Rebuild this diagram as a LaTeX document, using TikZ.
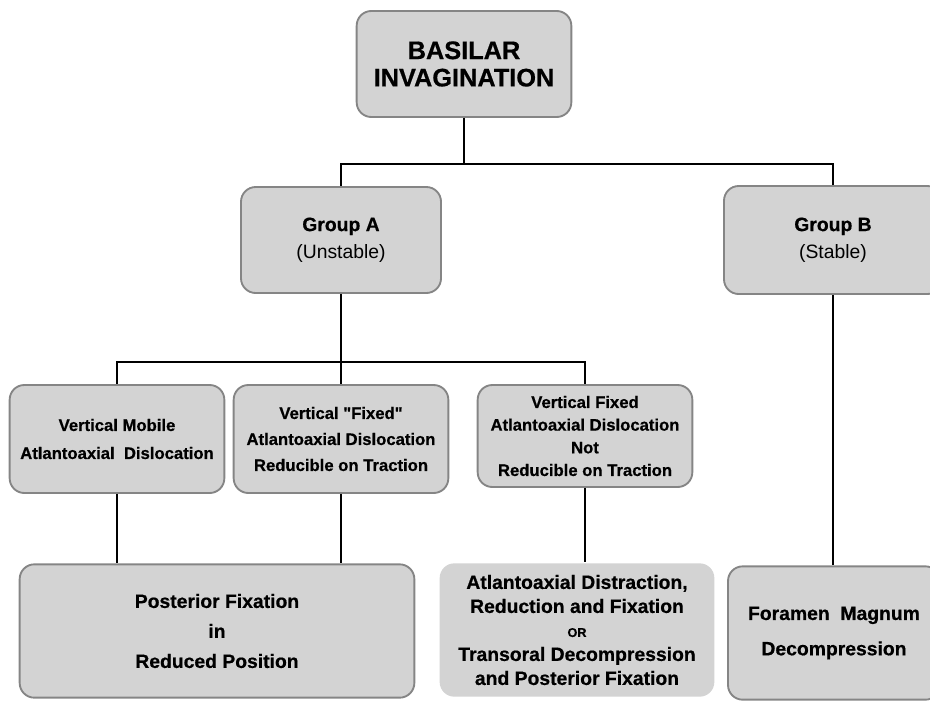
\documentclass[tikz,border=0pt]{standalone}
\usepackage{fontspec}
\setmainfont{Liberation Sans}[BoldFeatures={FakeBold=0.6}]
\usepackage{tikz}
\usetikzlibrary{calc}
\definecolor{boxfill}{HTML}{D3D3D3}
\definecolor{boxedge}{HTML}{858585}

\begin{document}
\begin{tikzpicture}[
    x=0.75pt, y=-0.75pt,
    stage/.style={draw=boxedge, line width=1.4pt, rounded corners=11pt, fill=boxfill, align=center, inner sep=2pt, font=\bfseries},
    plain/.style={stage, draw=none},
    link/.style={draw=black, line width=2.2pt},
]
\useasboundingbox (0,0) rectangle (930,700);

% Levels
\node[stage, minimum width=161pt, minimum height=79.5pt, font=\bfseries\fontsize{19}{20.5}\selectfont] (top) at (464,64) {BASILAR\\INVAGINATION};

\node[stage, minimum width=150pt, minimum height=79.5pt, font=\bfseries\fontsize{14.5}{20.5}\selectfont] (groupA) at (341,240) {Group A\\{\mdseries (Unstable)}};
\node[stage, minimum width=163.5pt, minimum height=81pt, font=\bfseries\fontsize{14.5}{20.5}\selectfont] (groupB) at (833,240) {Group B\\{\mdseries (Stable)}};

\node[stage, minimum width=161pt, minimum height=81pt, font=\bfseries\fontsize{12.5}{21}\selectfont] (mobile) at (117,439) {Vertical Mobile\\Atlantoaxial\ \ Dislocation};
\node[stage, minimum width=161pt, minimum height=81pt, font=\bfseries\fontsize{12.5}{19.5}\selectfont] (reducible) at (341,439) {Vertical \textquotedbl Fixed\textquotedbl\\Atlantoaxial Dislocation\\Reducible on Traction};
\node[stage, minimum width=161pt, minimum height=76.5pt, font=\bfseries\fontsize{12.5}{17}\selectfont] (fixed) at (585,436) {Vertical Fixed\\Atlantoaxial Dislocation\\Not\\Reducible on Traction};

\node[stage, minimum width=296pt, minimum height=100pt, font=\bfseries\fontsize{14.5}{22.5}\selectfont] (posterior) at (217,631) {Posterior Fixation\\in\\Reduced Position};
\node[plain, minimum width=206pt, minimum height=100pt, font=\bfseries\fontsize{14.5}{18}\selectfont] (distraction) at (577,630) {Atlantoaxial Distraction,\\Reduction and Fixation\\{\fontsize{9.5}{18}\selectfont OR}\\Transoral Decompression\\and Posterior Fixation};
\node[stage, minimum width=159pt, minimum height=100pt, font=\bfseries\fontsize{14.5}{26.5}\selectfont] (foramen) at (834,633) {Foramen\ \ Magnum\\Decompression};

% Connectors
\coordinate (fork1) at (464,164);
\coordinate (fork2) at (341,362);

\draw[link] (top) -- (fork1);
\draw[link] (fork1) -| (groupA);
\draw[link] (fork1) -| (groupB);

\draw[link] (groupA) -- (fork2);
\draw[link] (fork2) -| (mobile);
\draw[link] (fork2) -- (reducible);
\draw[link] (fork2) -| (fixed);

\draw[link] (mobile) -- (mobile |- posterior.north);
\draw[link] (reducible) -- (reducible |- posterior.north);
\draw[link] (fixed) -- (fixed |- distraction.north);
\draw[link] (groupB) -- (groupB |- foramen.north);

\end{tikzpicture}
\end{document}
